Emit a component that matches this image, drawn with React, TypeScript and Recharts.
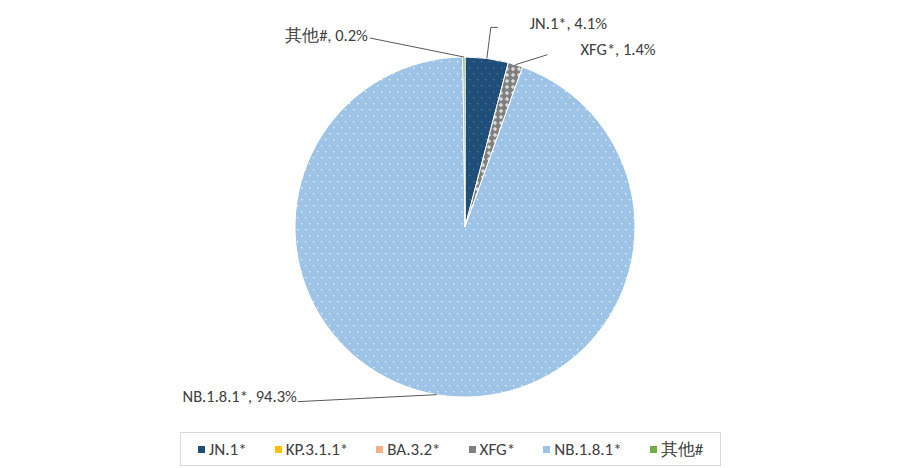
import React from "react"
import { PieChart, Pie, Cell, Legend } from "recharts"

const categories = ["JN.1*", "KP.3.1.1*", "BA.3.2*", "XFG*", "NB.1.8.1*", "其他#"]
const shares = [4.1, 0, 0, 1.4, 94.3, 0.2]
const fills = ["url(#pJN)", "url(#pKP)", "url(#pBA)", "url(#pXFG)", "url(#pNB)", "#70AD47"]
const swatches = ["#1F4E79", "#FFC000", "#F4B183", "#7F7F7F", "#9DC3E6", "#70AD47"]

const data = categories.map((name, i) => ({ name, value: shares[i] }))

const FONT = "Carlito, 'Noto Sans', 'DejaVu Sans', sans-serif"
const TEXT = "#404040"
const RAD = Math.PI / 180

// leader elbows / text offsets relative to the slice's outer edge point
const leader: Record<string, { pts: [number, number][]; text: [number, number]; anchor: "start" | "end" }> = {
  "JN.1*": { pts: [[4, -31], [11, -31]], text: [43, -35], anchor: "start" },
  "XFG*": { pts: [[32, -10]], text: [65, -16], anchor: "start" },
  "NB.1.8.1*": { pts: [[-139, 7]], text: [-140, 1], anchor: "end" },
  "其他#": { pts: [[-94, -19]], text: [-96, -22], anchor: "end" },
}

const renderLabel = (props: any) => {
  const { cx, cy, midAngle, outerRadius, name, value } = props
  const cfg = leader[name]
  if (!cfg || !value) return null
  const ex = cx + outerRadius * Math.cos(-midAngle * RAD)
  const ey = cy + outerRadius * Math.sin(-midAngle * RAD)
  const pts = [[ex, ey], ...cfg.pts.map(([dx, dy]) => [ex + dx, ey + dy])]
  return (
    <g>
      <polyline points={pts.map((p) => p.join(",")).join(" ")} fill="none" stroke="#595959" strokeWidth={1} />
      <text
        x={ex + cfg.text[0]}
        y={ey + cfg.text[1]}
        textAnchor={cfg.anchor}
        dominantBaseline="central"
        fontSize={16.5}
        fontFamily={FONT}
        fill={TEXT}
      >
        {`${name}, ${value}%`}
      </text>
    </g>
  )
}

const LegendBox = () => (
  <div
    style={{
      width: 541,
      height: 34,
      boxSizing: "border-box",
      border: "1px solid #D9D9D9",
      display: "flex",
      alignItems: "center",
      justifyContent: "center",
      gap: 28,
      fontFamily: FONT,
      fontSize: 17,
      color: TEXT,
    }}
  >
    {categories.map((c, i) => (
      <span key={c} style={{ display: "flex", alignItems: "center" }}>
        <span style={{ width: 7, height: 7, background: swatches[i], marginRight: 4, display: "inline-block" }} />
        {c}
      </span>
    ))}
  </div>
)

export default function App() {
  return (
    <div style={{ position: "absolute", left: 0, top: 0, background: "#fff" }}>
      <PieChart width={902} height={468} margin={{ top: 0, right: 0, bottom: 0, left: 0 }}>
        <defs>
          <pattern id="pNB" width="8" height="12" patternUnits="userSpaceOnUse">
            <rect width="8" height="12" fill="#9DC3E6" />
            <rect x="1" y="1" width="1.3" height="1.3" fill="#fff" fillOpacity={0.85} />
            <rect x="5" y="7" width="1.3" height="1.3" fill="#fff" fillOpacity={0.85} />
          </pattern>
          <pattern id="pJN" width="8" height="12" patternUnits="userSpaceOnUse">
            <rect width="8" height="12" fill="#1F4E79" />
            <rect x="1" y="1" width="1.2" height="1.2" fill="#5B7FA3" />
            <rect x="5" y="7" width="1.2" height="1.2" fill="#5B7FA3" />
          </pattern>
          <pattern id="pXFG" width="6" height="6" patternUnits="userSpaceOnUse">
            <rect width="6" height="6" fill="#7F7F7F" />
            <path d="M3 0.8 L5.2 3 L3 5.2 L0.8 3 Z" fill="#D9D9D9" />
          </pattern>
          <pattern id="pKP" width="4" height="4" patternUnits="userSpaceOnUse">
            <rect width="4" height="4" fill="#FFC000" />
            <rect width="2" height="2" fill="#FFE699" />
          </pattern>
          <pattern id="pBA" width="4" height="4" patternUnits="userSpaceOnUse">
            <rect width="4" height="4" fill="#fff" />
            <circle cx="2" cy="2" r="1.2" fill="#F4B183" />
          </pattern>
        </defs>
        <Pie
          data={data}
          dataKey="value"
          nameKey="name"
          cx={465}
          cy={227}
          outerRadius={170}
          startAngle={90}
          endAngle={-270}
          stroke="#fff"
          strokeWidth={1}
          label={renderLabel}
          labelLine={false}
          isAnimationActive={false}
        >
          {data.map((d, i) => (
            <Cell key={d.name} fill={fills[i]} />
          ))}
        </Pie>
        <Legend
          content={() => <LegendBox />}
          wrapperStyle={{ position: "absolute", left: 180, top: 432, width: 541, bottom: "auto" }}
        />
      </PieChart>
    </div>
  )
}
